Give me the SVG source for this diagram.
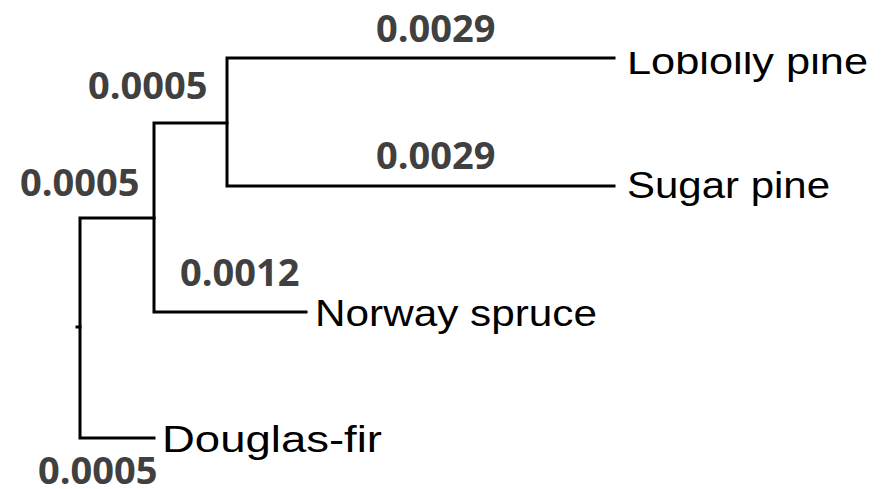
<svg xmlns="http://www.w3.org/2000/svg" width="885" height="489" viewBox="0 0 885 489">
  <style>
    .branch { stroke: #000; stroke-width: 3; fill: none; stroke-linecap: square; }
    .taxon { font-family: "Liberation Sans", Arial, sans-serif; font-size: 37px; fill: #000; }
    .len { font-family: "Open Sans", "Noto Sans", sans-serif; font-weight: bold; font-size: 38px; fill: #404040; }
  </style>
  <defs>
    <clipPath id="loblollyClip">
      <rect x="600" y="52" width="285" height="60"/>
    </clipPath>
  </defs>
  <rect width="885" height="489" fill="#fff"/>

  <!-- tree branches -->
  <g id="connectors">
    <path class="branch" d="M77,327 H80"/>
    <path class="branch" d="M154,438 H80 V218 H154"/>
    <path class="branch" d="M227,123 H154 V312 H306"/>
    <path class="branch" d="M614,58 H227 V186 H614"/>
  </g>

  <!-- leaves -->
  <g id="loblolly-pine">
    <text class="taxon" x="627" y="74" textLength="241" lengthAdjust="spacingAndGlyphs" clip-path="url(#loblollyClip)">Loblolly pine</text>
  </g>
  <g id="sugar-pine">
    <text class="taxon" x="627" y="198" textLength="203" lengthAdjust="spacingAndGlyphs">Sugar pine</text>
  </g>
  <g id="norway-spruce">
    <text class="taxon" x="315" y="326" textLength="282" lengthAdjust="spacingAndGlyphs">Norway spruce</text>
  </g>
  <g id="douglas-fir">
    <text class="taxon" x="162" y="452" textLength="220" lengthAdjust="spacingAndGlyphs">Douglas-fir</text>
  </g>

  <!-- branch lengths -->
  <g id="branch-lengths">
    <text class="len" x="376" y="42">0.0029</text>
    <text class="len" x="376" y="169">0.0029</text>
    <text class="len" x="88" y="99">0.0005</text>
    <text class="len" x="20" y="196">0.0005</text>
    <text class="len" x="180" y="286">0.0012</text>
    <text class="len" x="38" y="484" font-size="37">0.0005</text>
  </g>
</svg>
